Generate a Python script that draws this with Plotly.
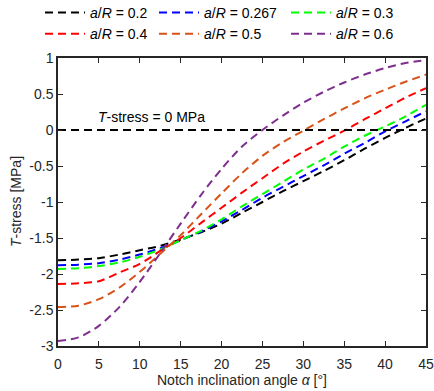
import plotly.graph_objects as go

alpha = [0, 2.5, 5, 7.5, 10, 12.5, 15, 17.5, 20, 22.5, 25, 27.5, 30, 32.5, 35, 37.5, 40, 42.5, 45]

t_02 = [-1.81, -1.80, -1.78, -1.73, -1.67, -1.61, -1.52, -1.42, -1.30, -1.15, -1.00, -0.85, -0.71, -0.57, -0.42, -0.26, -0.11, 0.03, 0.16]
t_0267 = [-1.88, -1.87, -1.85, -1.80, -1.73, -1.64, -1.53, -1.41, -1.27, -1.11, -0.94, -0.79, -0.64, -0.49, -0.33, -0.18, -0.02, 0.12, 0.26]
t_03 = [-1.93, -1.92, -1.89, -1.84, -1.76, -1.66, -1.53, -1.40, -1.24, -1.06, -0.89, -0.72, -0.55, -0.40, -0.23, -0.08, 0.05, 0.19, 0.35]
t_04 = [-2.14, -2.13, -2.10, -1.98, -1.86, -1.68, -1.50, -1.29, -1.08, -0.87, -0.67, -0.47, -0.30, -0.15, -0.01, 0.15, 0.30, 0.45, 0.58]
t_05 = [-2.46, -2.44, -2.35, -2.19, -1.97, -1.72, -1.46, -1.17, -0.88, -0.60, -0.36, -0.17, -0.01, 0.15, 0.30, 0.44, 0.56, 0.67, 0.77]
t_06 = [-2.93, -2.88, -2.72, -2.46, -2.11, -1.71, -1.30, -0.90, -0.54, -0.23, 0.00, 0.20, 0.38, 0.53, 0.66, 0.77, 0.86, 0.93, 0.97]

series_names = ["<i>a</i>/<i>R</i> = 0.2", "<i>a</i>/<i>R</i> = 0.267", "<i>a</i>/<i>R</i> = 0.3",
                "<i>a</i>/<i>R</i> = 0.4", "<i>a</i>/<i>R</i> = 0.5", "<i>a</i>/<i>R</i> = 0.6"]
series_values = [t_02, t_0267, t_03, t_04, t_05, t_06]
series_colors = ["#000000", "#0000FF", "#00FF00", "#FF0000", "#D95319", "#7E2F8E"]
series_legend = ["legend", "legend2", "legend3", "legend", "legend2", "legend3"]

zero_x = [0, 45]
zero_y = [0, 0]

x_ticks = [0, 5, 10, 15, 20, 25, 30, 35, 40, 45]
y_ticks = [1, 0.5, 0, -0.5, -1, -1.5, -2, -2.5, -3]
y_ticktext = ["1", "0.5", "0", "-0.5", "-1", "-1.5", "-2", "-2.5", "-3"]

FONT = "Liberation Sans, Arial, sans-serif"
AX = "#262626"
L, R, T, B = 58, 8, 58, 45
PW = 434 - L - R

fig = go.Figure()
for name, vals, col, leg in zip(series_names, series_values, series_colors, series_legend):
    fig.add_trace(go.Scatter(x=alpha, y=vals, mode="lines", name=name, legend=leg,
                             line=dict(color=col, width=2, dash="8px,5px", shape="spline", smoothing=0.8)))

fig.add_trace(go.Scatter(x=zero_x, y=zero_y, mode="lines", showlegend=False,
                         line=dict(color="#000000", width=2, dash="8px,5px")))

fig.add_annotation(x=11.4, y=0.18, text="<i>T</i>-stress = 0 MPa", showarrow=False,
                   font=dict(family=FONT, size=14, color="#000000"))

# y-axis title
fig.add_annotation(x=(16 - L) / PW, y=0.5, xref="paper", yref="paper",
                   text="<i>T</i>-stress [MPa]", textangle=-90, showarrow=False,
                   xanchor="center", yanchor="middle",
                   font=dict(family=FONT, size=14, color=AX))

axis_common = dict(showline=True, linecolor=AX, linewidth=1.5, mirror="ticks",
                   ticks="inside", ticklen=5, tickwidth=1.2, tickcolor=AX,
                   showgrid=False, zeroline=False,
                   tickfont=dict(family=FONT, size=14, color=AX))


def legend_at(px):
    return dict(orientation="v", x=px / 434, xanchor="left", xref="container",
                y=1 + 61 / 288, yanchor="top", yref="paper",
                font=dict(family=FONT, size=14, color="#000000"),
                bgcolor="rgba(0,0,0,0)", itemwidth=40)


fig.update_layout(
    width=434, height=391,
    margin=dict(l=L, r=R, t=T, b=B, autoexpand=False),
    paper_bgcolor="white", plot_bgcolor="white",
    font=dict(family=FONT, size=14, color=AX),
    legend=legend_at(40),
    legend2=legend_at(154),
    legend3=legend_at(286),
    xaxis=dict(range=[0, 45], tickvals=x_ticks, ticklabelstandoff=4,
               title=dict(text="Notch inclination angle <i>α</i> [°]", standoff=2,
                          font=dict(family=FONT, size=14, color=AX)),
               **axis_common),
    yaxis=dict(range=[-3, 1], tickvals=y_ticks, ticktext=y_ticktext,
               **axis_common),
)

fig.write_html("out.html")
